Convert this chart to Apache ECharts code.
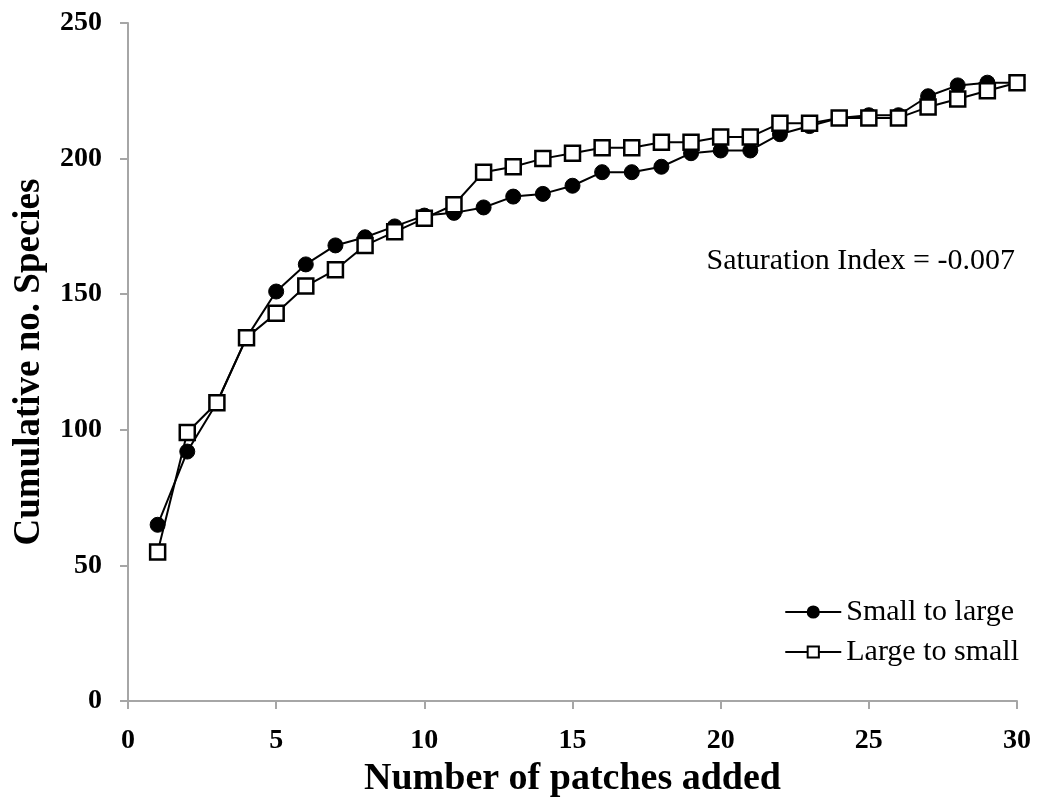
<!DOCTYPE html>
<html>
<head>
<meta charset="utf-8">
<script src="https://cdn.jsdelivr.net/npm/echarts@6/dist/echarts.min.js"></script>
<style>
  html, body { margin: 0; padding: 0; background: #fff; }
  #chart { width: 1037px; height: 803px; }
</style>
</head>
<body>
<div id="chart"></div>
<script>
// patches added, 1..30
const patches = [1, 2, 3, 4, 5, 6, 7, 8, 9, 10, 11, 12, 13, 14, 15, 16, 17, 18, 19, 20, 21, 22, 23, 24, 25, 26, 27, 28, 29, 30];
const smallToLarge = [65, 92, 110, 134, 151, 161, 168, 171, 175, 179, 180, 182, 186, 187, 190, 195, 195, 197, 202, 203, 203, 209, 212, 215, 216, 216, 223, 227, 228, 228];
const largeToSmall = [55, 99, 110, 134, 143, 153, 159, 168, 173, 178, 183, 195, 197, 200, 202, 204, 204, 206, 206, 208, 208, 213, 213, 215, 215, 215, 219, 222, 225, 228];
const seriesNames = ['Small to large', 'Large to small'];
const noteText = 'Saturation Index = -0.007';

const font = 'Liberation Serif, Times New Roman, serif';
const axisGray = '#a6a6a6';

const chart = echarts.init(document.getElementById('chart'));

function pairs(vals) {
  return patches.map((p, i) => [p, vals[i]]);
}

const option = {
  animation: false,
  backgroundColor: '#fff',
  grid: { left: 128, right: 20, top: 23, bottom: 100 },
  xAxis: {
    type: 'value',
    min: 0,
    max: 30,
    interval: 5,
    name: 'Number of patches added',
    nameLocation: 'middle',
    nameGap: 50,
    nameTextStyle: { fontFamily: font, fontWeight: 'bold', fontSize: 38, color: '#000' },
    axisLine: { show: true, lineStyle: { color: axisGray, width: 2 } },
    axisTick: { show: true, length: 8, lineStyle: { color: axisGray, width: 2 } },
    axisLabel: { fontFamily: font, fontWeight: 'bold', fontSize: 28, color: '#000', margin: 26 },
    splitLine: { show: false }
  },
  yAxis: {
    type: 'value',
    min: 0,
    max: 250,
    interval: 50,
    name: 'Cumulative no. Species',
    nameLocation: 'middle',
    nameGap: 80,
    nameTextStyle: { fontFamily: font, fontWeight: 'bold', fontSize: 37, color: '#000' },
    axisLine: { show: true, lineStyle: { color: axisGray, width: 2 } },
    axisTick: { show: true, length: 8, lineStyle: { color: axisGray, width: 2 } },
    axisLabel: { fontFamily: font, fontWeight: 'bold', fontSize: 28, color: '#000', margin: 26 },
    splitLine: { show: false }
  },
  legend: {
    orient: 'vertical',
    right: 13,
    top: 592,
    itemWidth: 56,
    itemHeight: 14,
    itemGap: 10,
    textStyle: { fontFamily: font, fontSize: 30, lineHeight: 30, color: '#000' },
    data: seriesNames
  },
  graphic: [{
    type: 'text',
    right: 22,
    top: 246,
    style: { text: noteText, font: '30px ' + font, fill: '#000' }
  }],
  series: [
    {
      name: seriesNames[0],
      type: 'line',
      data: pairs(smallToLarge),
      symbol: 'circle',
      symbolSize: 15,
      itemStyle: { color: '#000', borderColor: '#000', borderWidth: 1 },
      lineStyle: { color: '#000', width: 2 },
      z: 2
    },
    {
      name: seriesNames[1],
      type: 'line',
      data: pairs(largeToSmall),
      symbol: 'rect',
      symbolSize: 15,
      itemStyle: { color: '#fff', borderColor: '#000', borderWidth: 2.5 },
      lineStyle: { color: '#000', width: 2 },
      z: 3
    }
  ]
};

chart.setOption(option);
</script>
</body>
</html>
